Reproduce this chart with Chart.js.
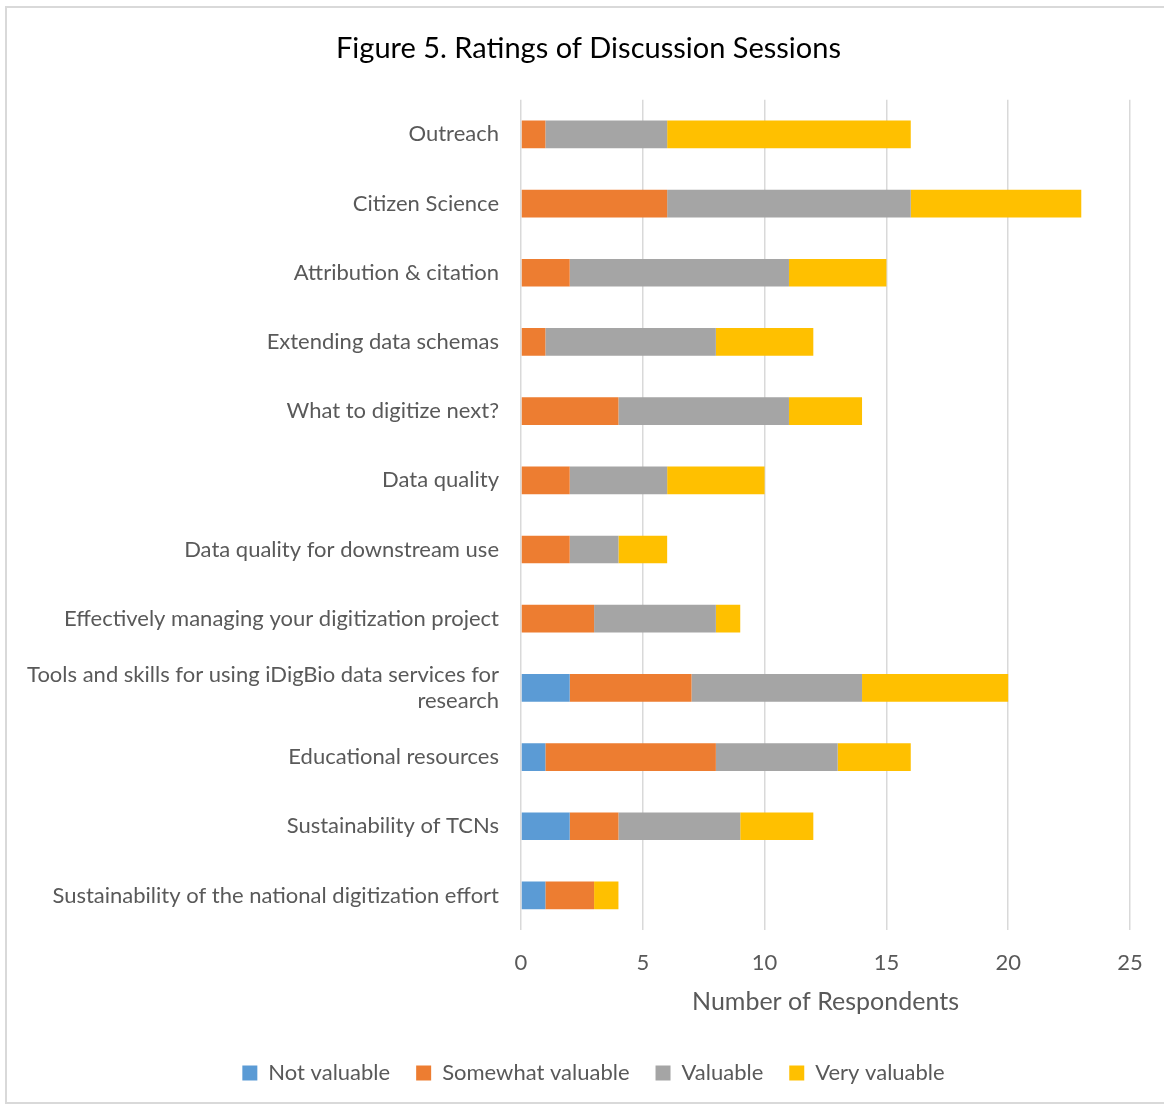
<!DOCTYPE html>
<html>
<head>
<meta charset="utf-8">
<script src="https://cdn.jsdelivr.net/npm/chart.js@4"></script>
<style>
  html, body { margin: 0; padding: 0; background: #fff; }
  #wrap { position: relative; width: 1164px; height: 1106px; }
  #frame { position: absolute; left: 5px; top: 6px; width: 1160px; height: 1098px; border: 2px solid #d9d9d9; box-sizing: border-box; border-right: none; }
  canvas { position: absolute; left: 0; top: 0; }
</style>
</head>
<body>
<div id="wrap">
  <div id="frame"></div>
  <canvas id="chart" width="1164" height="1106"></canvas>
</div>
<script>
const categories = [
    'Outreach',
    'Citizen Science',
    'Attribution & citation',
    'Extending data schemas',
    'What to digitize next?',
    'Data quality',
    'Data quality for downstream use',
    'Effectively managing your digitization project',
    ['Tools and skills for using iDigBio data services for', 'research'],
    'Educational resources',
    'Sustainability of TCNs',
    'Sustainability of the national digitization effort'
];

const notValuable      = [0, 0, 0, 0, 0, 0, 0, 0, 2, 1, 2, 1];
const somewhatValuable = [1, 6, 2, 1, 4, 2, 2, 3, 5, 7, 2, 2];
const valuable         = [5, 10, 9, 7, 7, 4, 2, 5, 7, 5, 5, 0];
const veryValuable     = [10, 7, 4, 4, 3, 4, 2, 1, 6, 3, 3, 1];

const xTicks = [0, 5, 10, 15, 20, 25];

const FONT = 'Lato, "Open Sans", sans-serif';
const TEXT = '#595959';

// title and legend sit a bit right of the canvas centre in the original
const shiftBlocks = {
    id: 'shiftBlocks',
    afterLayout(chart) {
        const t = chart.titleBlock, l = chart.legend;
        t.left += 13; t.right += 13;
        l.left += 18; l.right += 18;
    }
};

const ctx = document.getElementById('chart').getContext('2d');
new Chart(ctx, {
    type: 'bar',
    data: {
        labels: categories,
        datasets: [
            { label: 'Not valuable', data: notValuable, backgroundColor: '#5B9BD5' },
            { label: 'Somewhat valuable', data: somewhatValuable, backgroundColor: '#ED7D31' },
            { label: 'Valuable', data: valuable, backgroundColor: '#A5A5A5' },
            { label: 'Very valuable', data: veryValuable, backgroundColor: '#FFC000' }
        ]
    },
    plugins: [shiftBlocks],
    options: {
        indexAxis: 'y',
        responsive: false,
        animation: false,
        datasets: {
            bar: { barPercentage: 0.4, categoryPercentage: 1.0, borderWidth: 0 }
        },
        layout: { padding: { left: 21, right: 34, top: 0, bottom: 12 } },
        plugins: {
            title: {
                display: true,
                text: 'Figure 5. Ratings of Discussion Sessions',
                color: '#000',
                font: { family: FONT, size: 29, weight: 'normal' },
                padding: { top: 31, bottom: 34 }
            },
            legend: {
                position: 'bottom',
                labels: {
                    color: TEXT,
                    font: { family: FONT, size: 22 },
                    boxWidth: 15,
                    boxHeight: 15,
                    padding: 26
                }
            },
            tooltip: { enabled: false }
        },
        scales: {
            x: {
                stacked: true,
                min: 0,
                max: 25,
                afterBuildTicks: s => { s.ticks = xTicks.map(v => ({ value: v })); },
                afterFit: s => { s.height = 106; },
                grid: { color: '#d9d9d9', lineWidth: 1.5, drawTicks: false },
                border: { display: false },
                ticks: { color: TEXT, font: { family: FONT, size: 22 }, padding: 20 },
                title: {
                    display: true,
                    text: 'Number of Respondents',
                    color: TEXT,
                    font: { family: FONT, size: 25 },
                    padding: { top: 12, bottom: 19 }
                }
            },
            y: {
                stacked: true,
                afterFit: s => { s.width = 500; },
                grid: { display: false, drawTicks: false },
                border: { display: false },
                ticks: { color: TEXT, font: { family: FONT, size: 22 }, padding: 22 }
            }
        }
    }
});
</script>
</body>
</html>
